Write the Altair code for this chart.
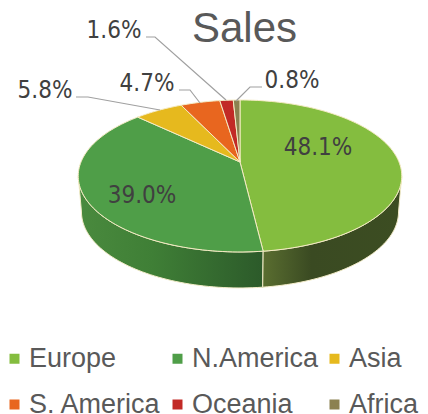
import math
import altair as alt
import pandas as pd

regions = ["Europe", "N.America", "Asia", "S. America", "Oceania", "Africa"]
shares = [48.1, 39.0, 5.8, 4.7, 1.6, 0.8]
colors = ["#84bd3f", "#4f9e48", "#e6b91e", "#e8661f", "#c22a26", "#8b8150"]
labels = ["48.1%", "39.0%", "5.8%", "4.7%", "1.6%", "0.8%"]
label_x = [318, 142, 45, 147, 114, 292]
label_y = [148, 196, 91, 84, 31, 81]
leaders = [
    [(76, 97), (88, 97), (160, 110)],
    [(179, 90), (190, 90), (200, 103)],
    [(146, 37), (155, 37), (226, 100)],
    [(262, 87), (250, 87), (236, 101)],
]

CX, CY, A, H, K, DEPTH, SHRINK = 240, 162, 159, 73.4, 0.184, 36, 0.98
W, HT = 412, 406


def project(deg, depth=0.0, shrink=1.0):
    t = math.radians(deg)
    u, v = math.sin(t), math.cos(t)
    w = 1 + K * v
    return CX + shrink * A * u / w, CY - H * v / w + depth


def arc(a, b, **kw):
    n = max(2, int(abs(b - a) / 1.5) + 1)
    return [project(a + (b - a) * i / n, **kw) for i in range(n + 1)]


total = sum(shares)
edges = [0.0]
for s in shares:
    edges.append(edges[-1] + s / total * 360)

top_rows = []
for r, a, b in zip(regions, edges[:-1], edges[1:]):
    pts = [(CX, CY)] + arc(a, b) + [(CX, CY)]
    top_rows += [{"region": r, "i": i, "x": x, "y": y} for i, (x, y) in enumerate(pts)]

vis_a = math.degrees(math.acos(-K))
vis_b = 360 - vis_a
split = edges[1]
side_rows = []
for name, a, b in [("right", vis_a, split), ("left", split, vis_b)]:
    pts = arc(a, b) + arc(b, a, depth=DEPTH, shrink=SHRINK)
    pts.append(pts[0])
    side_rows += [{"part": name, "i": i, "x": x, "y": y} for i, (x, y) in enumerate(pts)]
top_df = pd.DataFrame(top_rows)
side_df = pd.DataFrame(side_rows)

xs = alt.Scale(domain=[8, 8 + W], range=[0, W])
ys = alt.Scale(domain=[8, 8 + HT], range=[0, HT])
X = alt.X("x:Q", scale=xs, axis=None)
Y = alt.Y("y:Q", scale=ys, axis=None)


def grad(stops):
    return alt.LinearGradient(
        gradient="linear", x1=0, x2=1, y1=0, y2=0,
        stops=[alt.GradientStop(offset=o, color=c) for o, c in stops],
    )


side_left = alt.Chart(side_df[side_df.part == "left"]).mark_line(
    fill=grad([(0, "#4a8a3e"), (0.4, "#3f7f36"), (1, "#2c5a2a")]),
    stroke="#f3ecc8", strokeWidth=1,
).encode(x=X, y=Y, order="i:Q")
side_right = alt.Chart(side_df[side_df.part == "right"]).mark_line(
    fill=grad([(0, "#5a6e30"), (0.35, "#3a4a22"), (1, "#3c4d22")]),
    stroke="#f3ecc8", strokeWidth=1,
).encode(x=X, y=Y, order="i:Q")

top = alt.Chart(top_df).mark_line(stroke="#f5ebc4", strokeWidth=1).encode(
    x=X, y=Y, order="i:Q",
    fill=alt.Fill(
        "region:N",
        scale=alt.Scale(domain=regions, range=colors),
        sort=regions,
        legend=alt.Legend(
            title=None, orient="none", legendX=-7, legendY=337, columns=3,
            direction="horizontal",
            symbolType="square", symbolSize=100, symbolStrokeWidth=0,
            labelFont="Liberation Sans", labelFontSize=27, labelColor="#595959",
            labelOffset=1, columnPadding=2, rowPadding=18, labelLimit=200,
            padding=0,
        ),
    ),
)

lead_rows = []
for k, pts in enumerate(leaders):
    lead_rows += [{"k": k, "i": i, "x": x, "y": y} for i, (x, y) in enumerate(pts)]
leader = alt.Chart(pd.DataFrame(lead_rows)).mark_line(
    stroke="#a0a0a0", strokeWidth=1.2
).encode(x=X, y=Y, detail="k:N", order="i:Q")

label_df = pd.DataFrame({"label": labels, "x": label_x, "y": label_y})
text = alt.Chart(label_df).mark_text(
    font="DejaVu Sans Condensed", fontSize=24, color="#404040",
    align="center", baseline="middle",
).encode(x=X, y=Y, text="label:N")

chart = alt.layer(side_left, side_right, top, leader, text).properties(
    width=W, height=HT,
    padding=0,
    autosize=alt.AutoSizeParams(type="none"),
    title=alt.TitleParams(
        "Sales", font="Liberation Sans", fontSize=42, fontWeight="normal",
        color="#595959", anchor="start", dx=191, dy=43, offset=0,
    ),
).configure_view(stroke=None)

chart.save("out.html", embed_options={"renderer": "svg", "actions": False})
